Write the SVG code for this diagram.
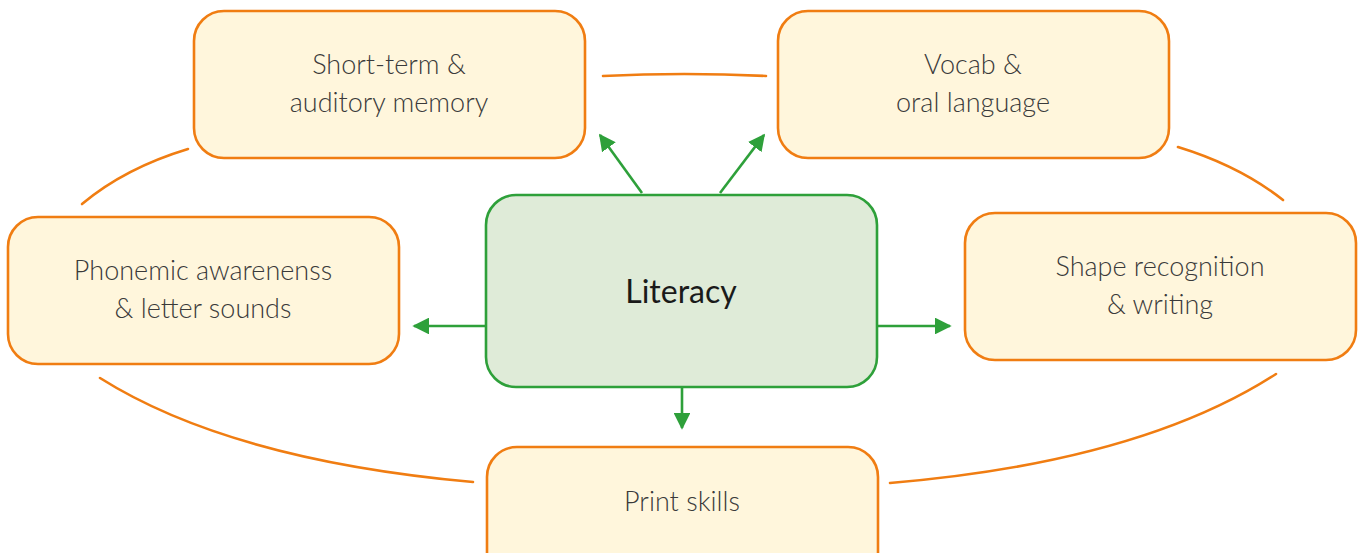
<svg xmlns="http://www.w3.org/2000/svg" width="1365" height="553" viewBox="0 0 1365 553">
  <style>
    .skill rect { fill: #FFF6DC; stroke: #F07D12; stroke-width: 2.6; }
    .core rect { fill: #DFEBD8; stroke: #2EA03A; stroke-width: 2.6; }
    .label { font-family: Lato, "Noto Sans", "Liberation Sans", sans-serif; font-weight: 300; font-size: 27px; fill: #3a3a3a; text-anchor: middle; }
    .title { font-family: Lato, "Noto Sans", "Liberation Sans", sans-serif; font-weight: 400; font-size: 32px; fill: #1a1a1a; text-anchor: middle; }
    .ring { fill: none; stroke: #F07D12; stroke-width: 2.6; stroke-linecap: round; }
    .arrow { fill: none; stroke: #2EA03A; stroke-width: 2.6; marker-end: url(#head); }
  </style>
  <defs>
    <marker id="head" viewBox="0 0 10 10" refX="9" refY="5" markerWidth="6.5" markerHeight="6.5" markerUnits="strokeWidth" orient="auto">
      <path d="M0,0 L10,5 L0,10 Z" fill="#2EA03A"/>
    </marker>
  </defs>
  <rect width="1365" height="553" fill="#FFFFFF"/>

  <!-- connectors -->
  <g id="connectors">
    <!-- orange ring linking the outer skills -->
    <path class="ring" d="M603,76 Q684,72 766,76"/>
    <path class="ring" d="M1178,147 Q1240,166 1283,200"/>
    <path class="ring" d="M188,149 Q125,168 82,204"/>
    <path class="ring" d="M100,378 Q230,460 473,482"/>
    <path class="ring" d="M890,483 Q1140,462 1276,374"/>
    <!-- green arrows out of the centre -->
    <path class="arrow" d="M642,193 L600,135"/>
    <path class="arrow" d="M720,193 L764,135"/>
    <path class="arrow" d="M486,326 L414,326"/>
    <path class="arrow" d="M877,326 L950,326"/>
    <path class="arrow" d="M682,387 L682,428"/>
  </g>

  <g id="short-term" class="skill">
    <rect x="194" y="11" width="391" height="147" rx="30"/>
    <text class="label" x="389" y="74">Short-term &amp;</text>
    <text class="label" x="389" y="112">auditory memory</text>
  </g>

  <g id="vocab" class="skill">
    <rect x="778" y="11" width="391" height="147" rx="30"/>
    <text class="label" x="973" y="74">Vocab &amp;</text>
    <text class="label" x="973" y="112">oral language</text>
  </g>

  <g id="phonemic" class="skill">
    <rect x="8" y="217" width="391" height="147" rx="30"/>
    <text class="label" x="203" y="280">Phonemic awarenenss</text>
    <text class="label" x="203" y="318">&amp; letter sounds</text>
  </g>

  <g id="shape" class="skill">
    <rect x="965" y="213" width="391" height="147" rx="30"/>
    <text class="label" x="1160" y="276">Shape recognition</text>
    <text class="label" x="1160" y="314">&amp; writing</text>
  </g>

  <g id="literacy" class="core">
    <rect x="486" y="195" width="391" height="192" rx="30"/>
    <text class="title" x="681" y="303">Literacy</text>
  </g>

  <g id="print" class="skill">
    <rect x="487" y="447" width="391" height="147" rx="30"/>
    <text class="label" x="682" y="511">Print skills</text>
  </g>
</svg>
